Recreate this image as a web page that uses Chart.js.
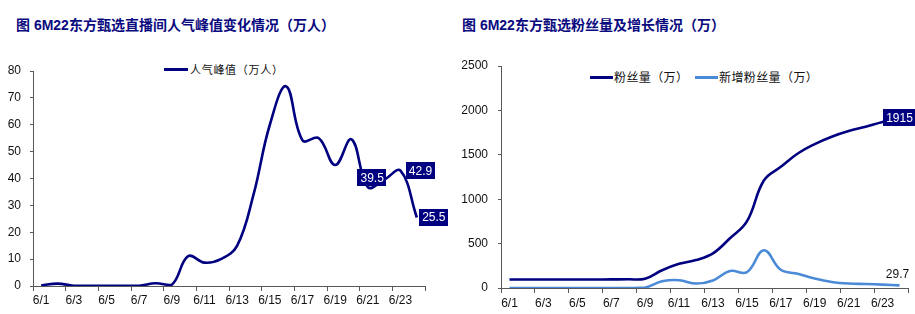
<!DOCTYPE html>
<html><head><meta charset="utf-8">
<script src="https://cdn.jsdelivr.net/npm/chart.js@4/dist/chart.umd.min.js"></script>
<style>
html,body{margin:0;padding:0;background:#fff;width:915px;height:314px;overflow:hidden;position:relative;font-family:"Liberation Sans",Arial,sans-serif;}
.title{position:absolute;top:14px;font:bold 14px "Liberation Sans","Noto Sans CJK SC",sans-serif;color:#0a0a80;white-space:nowrap;}
.lg{position:absolute;font:11px "Noto Sans CJK SC",sans-serif;color:#111;white-space:nowrap;line-height:14px;}
.sw{position:absolute;height:3px;}
canvas{position:absolute;}
</style></head><body>
<div class="title" style="left:16px">图 6M22东方甄选直播间人气峰值变化情况（万人）</div>
<div class="title" style="left:462px">图 6M22东方甄选粉丝量及增长情况（万）</div>
<div class="sw" style="left:164px;top:68px;width:24px;background:#000080"></div>
<div class="lg" style="left:190px;top:62px;letter-spacing:0.7px">人气峰值（万人）</div>
<div class="sw" style="left:590px;top:76px;width:23px;background:#000080"></div>
<div class="lg" style="left:614px;top:70px;font-size:12px;letter-spacing:0.4px">粉丝量（万）</div>
<div class="sw" style="left:695px;top:76px;width:23px;background:#4a8ad6"></div>
<div class="lg" style="left:719px;top:70px;font-size:12px;letter-spacing:0.4px">新增粉丝量（万）</div>
<canvas id="c1" width="455" height="274" style="left:0;top:40px;width:455px;height:274px"></canvas>
<canvas id="c2" width="460" height="274" style="left:455px;top:40px;width:460px;height:274px"></canvas>
<script>
const dates = ['6/1','6/2','6/3','6/4','6/5','6/6','6/7','6/8','6/9','6/10','6/11','6/12','6/13','6/14','6/15','6/16','6/17','6/18','6/19','6/20','6/21','6/22','6/23','6/24'];
const peakViewers = [0.2,0.9,0.1,0.1,0.1,0.1,0.1,1.0,0.5,11.1,8.7,10.0,15.0,34.0,60.0,74.3,54.2,55.0,45.0,54.6,36.8,39.5,42.9,25.5];
const fans = [95,95,95,95,95,96,97,98,105,200,272,315,390,560,750,1210,1365,1515,1620,1703,1767,1816,1870,1915];
const newFans = [0,0,0,0,0,0,0,0,5,75,88,50,85,192,178,425,205,160,106,68,50,45,38,29.7];
const leftTicks = [0,10,20,30,40,50,60,70,80];
const rightTicks = [0,500,1000,1500,2000,2500];
const leftLabels = {21:'39.5',22:'42.9',23:'25.5'};
const fansLabels = {23:'1915'};
const newFansLabels = {23:'29.7'};

const AXIS = '#595959';
const tickFont = {family:'"Liberation Sans", Arial, sans-serif', size:12};

const labelPlugin = {
  id:'vlabels',
  afterDatasetsDraw(chart, args, opts){
    const ctx = chart.ctx;
    (opts.items||[]).forEach(it=>{
      const meta = chart.getDatasetMeta(it.ds);
      const el = meta.data[it.i];
      if(!el) return;
      const x = el.x + (it.dx||0), y = el.y + (it.dy||0);
      ctx.save();
      ctx.font = '12px "Liberation Sans", Arial, sans-serif';
      ctx.textAlign='center'; ctx.textBaseline='middle';
      if(it.box){
        const w = ctx.measureText(it.text).width + 6, h = 17;
        ctx.fillStyle = '#000080';
        ctx.fillRect(Math.round(x-w/2), Math.round(y-h/2), Math.round(w), h);
        ctx.fillStyle = '#fff';
      } else ctx.fillStyle = '#111';
      ctx.fillText(it.text, x, y+0.5);
      ctx.restore();
    });
  }
};

function xScale(h, pad){
  return {
    type:'category',
    offset:true,
    afterFit(s){ s.height = h; },
    grid:{ display:true, drawOnChartArea:false, drawTicks:true, tickLength:5, offset:true,
      color: c => (c.index===undefined || c.index%2===0) ? AXIS : 'rgba(0,0,0,0)',
      tickColor: c => (c.index===undefined || c.index%2===0) ? AXIS : 'rgba(0,0,0,0)' },
    border:{display:true,color:AXIS,width:1},
    ticks:{ autoSkip:false, maxRotation:0, padding:pad, color:'#111', font:tickFont,
      callback:(v,i)=> i%2===0 ? dates[i] : '' }
  };
}
function yScale(w, max, step, pad, list){
  return {
    min:0, max:max,
    afterFit(s){ s.width = w; },
    afterBuildTicks(s){ s.ticks = list.map(v=>({value:v})); },
    grid:{ display:true, drawOnChartArea:false, drawTicks:true, tickLength:3, color:AXIS },
    border:{display:true,color:AXIS,width:1},
    ticks:{ stepSize:step, padding:pad, color:'#111', font:tickFont, callback:v=>String(v) }
  };
}

new Chart(document.getElementById('c1'), {
  type:'line',
  data:{ labels:dates, datasets:[{ label:'人气峰值（万人）', data:peakViewers, borderColor:'#000080', borderWidth:2.6, pointRadius:0, tension:0.4, fill:false }]},
  options:{
    responsive:false, animation:false, devicePixelRatio:1,
    layout:{ padding:{ top:31, right:30, bottom:0, left:0 } },
    plugins:{ legend:{display:false}, tooltip:{enabled:false},
      vlabels:{ items:[
        {ds:0,i:21,text:leftLabels[21],box:true,dx:-12,dy:-2},
        {ds:0,i:22,text:leftLabels[22],box:true,dx:20,dy:0},
        {ds:0,i:23,text:leftLabels[23],box:true,dx:17,dy:0}
      ]}},
    scales:{ x:xScale(28,2), y:yScale(33,80,10,9,leftTicks) }
  },
  plugins:[labelPlugin]
});

new Chart(document.getElementById('c2'), {
  type:'line',
  data:{ labels:dates, datasets:[
    { label:'粉丝量（万）', data:fans, borderColor:'#000080', borderWidth:2.6, pointRadius:0, tension:0.4, fill:false },
    { label:'新增粉丝量（万）', data:newFans, borderColor:'#4a8ad6', borderWidth:2.6, pointRadius:0, tension:0.4, fill:false }
  ]},
  options:{
    responsive:false, animation:false, devicePixelRatio:1,
    layout:{ padding:{ top:26, right:7, bottom:0, left:0 } },
    plugins:{ legend:{display:false}, tooltip:{enabled:false},
      vlabels:{ items:[
        {ds:0,i:23,text:fansLabels[23],box:true,dx:0,dy:0},
        {ds:1,i:23,text:newFansLabels[23],box:false,dx:-2,dy:-11}
      ]}},
    scales:{ x:xScale(26,3), y:yScale(46,2500,500,10,rightTicks) }
  },
  plugins:[labelPlugin]
});
</script>
</body></html>
